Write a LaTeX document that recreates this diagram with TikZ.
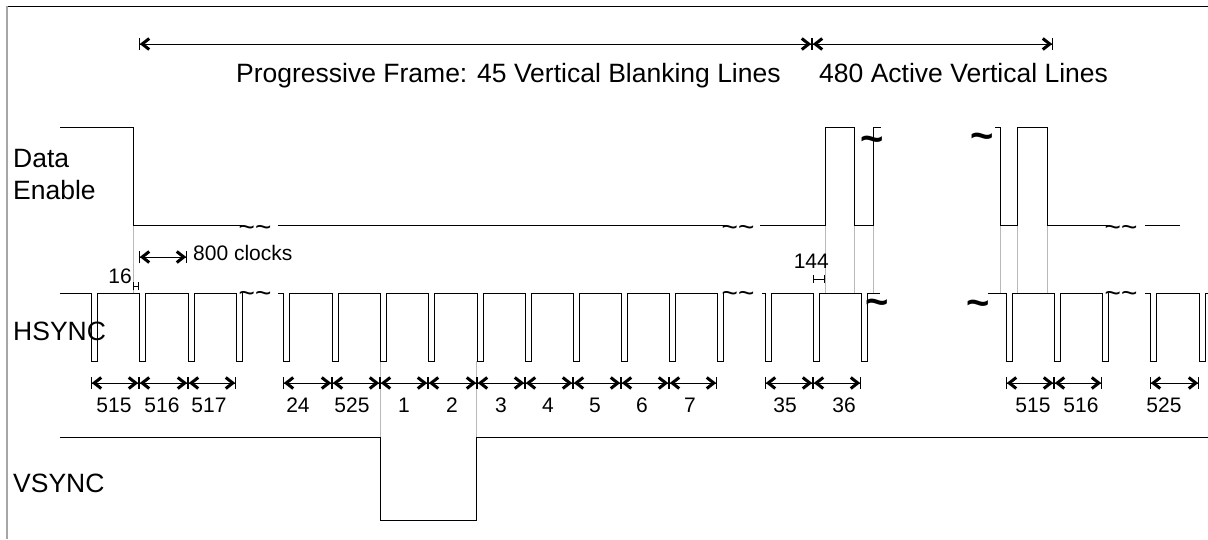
\documentclass[tikz,border=0pt]{standalone}
\usepackage{fontspec}
\setmainfont{Liberation Sans}
\usepackage{tikz}
\usetikzlibrary{arrows.meta}

\begin{document}
\begin{tikzpicture}[x=1pt, y=-1pt,
    sig/.style={line width=1pt, line join=miter},
    guide/.style={gray!55, line width=0.7pt},
    lenarrow/.style={line width=0.8pt,
      {Bar[width=12pt]Straight Barb[length=7pt,width=11pt,line width=3pt]}-{Straight Barb[length=7pt,width=11pt,line width=3pt]Bar[width=12pt]}},
    tick/.style={line width=0.6pt, {Bar[width=8pt]}-{Bar[width=8pt]}},
    big/.style={font=\fontsize{26.5}{30}\selectfont, inner sep=0pt},
    small/.style={font=\fontsize{21}{24}\selectfont, inner sep=0pt},
    brk/.style={font=\fontsize{28}{30}\selectfont, inner sep=0pt, anchor=base},
    bigbrk/.style={font=\fontsize{40}{42}\selectfont\bfseries, inner sep=0pt, anchor=base}]

    \useasboundingbox (0,0) rectangle (1208,539);

    % frame
    \draw[line width=1pt] (7,6) -- (1208,6);
    \draw[gray!70, line width=1.6pt] (7,6) -- (7,539);

    % frame spans
    \draw[lenarrow] (139,44) -- (812,44);
    \draw[lenarrow] (812,44) -- (1053,44);
    \node[big, anchor=base west] (blank) at (236,82) {Progressive Frame: 45 Vertical Blanking Lines};
    \node[big, anchor=base west] (active) at (819,82) {480 Active Vertical Lines};

    % signal names
    \node[big, anchor=base west] (de1) at (13,167) {Data};
    \node[big, anchor=base west] (de2) at (13,199) {Enable};
    \node[big, anchor=base west] (hs) at (13,340) {HSYNC};
    \node[big, anchor=base west] (vs) at (13,492) {VSYNC};

    % guides from the edges
    \foreach \x in {133,825,854,873,1000,1017,1047}
      \draw[guide] (\x,225) -- (\x,293);
    \foreach \x in {380,476}
      \draw[guide] (\x,361) -- (\x,437);

    % data enable
    \draw[sig] (60,127) -- (133,127) -- (133,225) -- (242,225);
    \draw[sig] (278,225) -- (726,225);
    \draw[sig] (760,225) -- (825,225) -- (825,127) -- (854,127) -- (854,225)
      -- (873,225) -- (873,127) -- (881,127);
    \draw[sig] (995,127) -- (1000,127) -- (1000,225) -- (1017,225) -- (1017,127)
      -- (1047,127) -- (1047,225) -- (1108,225);
    \draw[sig] (1145,225) -- (1180,225);

    % hsync
    \draw[sig] (60,293) foreach \p in {91,139,188,236}
      { -- (\p,293) -- (\p,361) -- ({\p+6},361) -- ({\p+6},293) };
    \draw[sig] (278,293) foreach \p in {283,332,380,428,477,525,573,621,669,717}
      { -- (\p,293) -- (\p,361) -- ({\p+6},361) -- ({\p+6},293) };
    \draw[sig] (762,293) foreach \p in {765,813,861}
      { -- (\p,293) -- (\p,361) -- ({\p+6},361) -- ({\p+6},293) } -- (880,293);
    \draw[sig] (988,293) foreach \p in {1006,1054,1102}
      { -- (\p,293) -- (\p,361) -- ({\p+6},361) -- ({\p+6},293) };
    \draw[sig] (1145,293) foreach \p in {1150,1199}
      { -- (\p,293) -- (\p,361) -- ({\p+6},361) -- ({\p+6},293) } -- (1208,293);

    % vsync
    \draw[sig] (60,437) -- (380,437) -- (380,520) -- (476,520) -- (476,437) -- (1208,437);

    % breaks
    \foreach \x/\y [count=\i] in {255/236,738/236,1121/236,255/302,738/302,1121/302}
      \node[brk] (gap\i) at (\x,\y) {\textasciitilde\textasciitilde};
    \foreach \x/\y [count=\i] in {872/152,982/149,877/315,978/316}
      \node[bigbrk] (cut\i) at (\x,\y) {\textasciitilde};

    % line clocks
    \draw[lenarrow] (139,257) -- (187,257);
    \node[small, anchor=base west] (clk) at (193,260) {800 clocks};
    \draw[tick] (133,286) -- (139,286);
    \node[small, anchor=base east] (fp) at (132,283) {16};
    \draw[tick] (813,279) -- (825,279);
    \node[small, anchor=base east] (bp) at (829,268) {144};

    % line numbers
    \foreach \a/\b in {91/139,139/188,188/236,283/332,332/380,380/428,428/477,477/525,
        525/573,573/621,621/669,669/717,765/813,813/861,1006/1054,1054/1102,1150/1199}
      \draw[lenarrow] (\a,383) -- (\b,383);
    \foreach \x/\t [count=\i] in {114/515,162/516,209/517,298/24,352/525,404/1,452/2,
        501/3,548/4,595/5,642/6,690/7,785/35,844/36,1033/515,1081/516,1164/525}
      \node[small, anchor=base] (ln\i) at (\x,412) {\t};
\end{tikzpicture}
\end{document}
